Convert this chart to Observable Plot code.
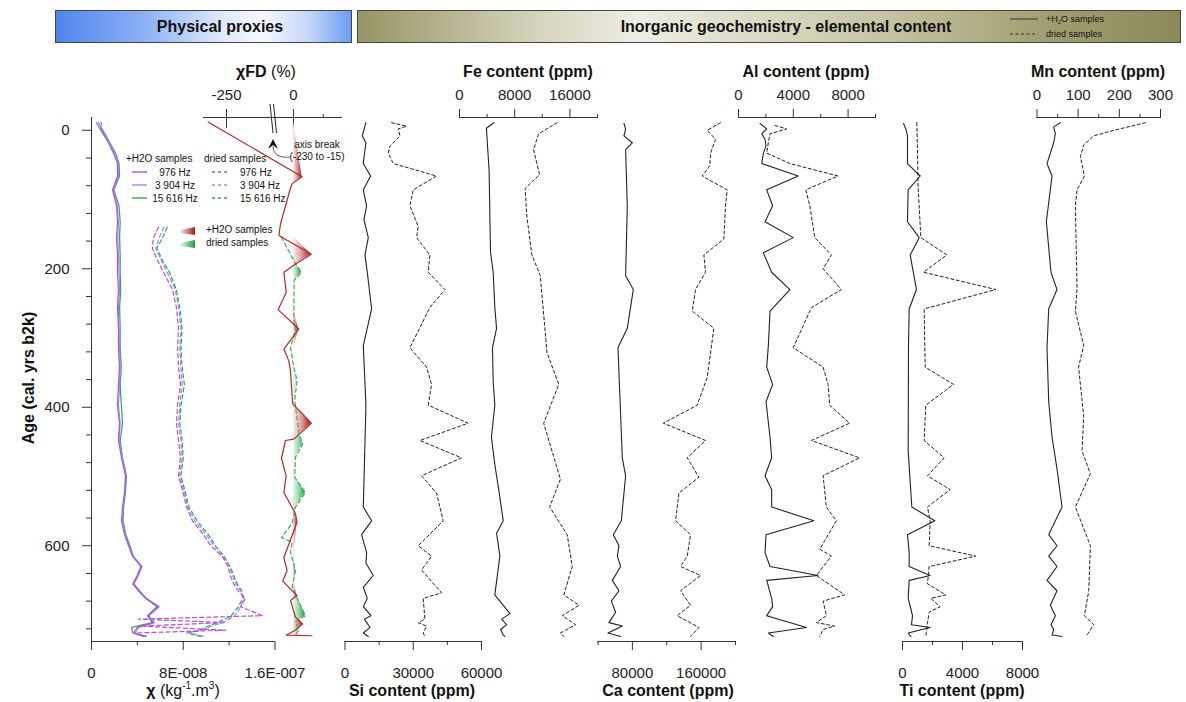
<!DOCTYPE html>
<html><head><meta charset="utf-8">
<script src="https://cdn.jsdelivr.net/npm/d3@7"></script>
<script src="https://cdn.jsdelivr.net/npm/@observablehq/plot@0.6"></script>
<style>
body{margin:0;background:#fff;font-family:"Liberation Sans",Arial,sans-serif;}
#chart{position:relative;width:1186px;height:702px;overflow:hidden;background:#fff;}
.t{position:absolute;white-space:nowrap;color:#111;line-height:1;}
</style></head><body><div id="chart"></div>
<script>
// ---------------- DATA ----------------
// magnetic susceptibility (kg-1.m3), +H2O samples
const chiAge = [-11,-3,8,18,33,48,66,86,109,132,155,180,205,230,256,286,314,342,367,397,423,448,473,499,524,544,564,584,600,615,630,643,655,665,676,688,701,711,718,726,731];
const chi976 = [0.44,0.7,1.13,1.48,1.92,2.27,2.27,1.83,2.18,2.27,2.18,2.27,2.27,2.35,2.27,2.35,2.35,2.44,2.35,2.27,2.44,2.35,2.62,2.96,2.88,2.7,2.62,2.88,3.23,3.57,4.36,4.0,3.66,4.1,4.7,5.84,4.88,5.4,4.0,3.66,4.7];
const chi3904 = [0.6,0.9,1.3,1.6,2.0,2.35,2.35,1.9,2.25,2.35,2.3,2.35,2.4,2.45,2.35,2.4,2.45,2.5,2.45,2.35,2.5,2.4,2.7,3.0,2.9,2.75,2.7,2.95,3.3,3.6,4.4,4.1,3.7,4.2,4.8,5.9,5.0,5.5,4.1,3.8,4.8];
const chi15616 = [0.87,0.8,1.2,1.6,2.1,2.4,2.45,1.95,2.4,2.5,2.45,2.5,2.5,2.55,2.45,2.5,2.5,2.6,2.5,2.6,2.7,2.5,2.7,3.05,2.95,2.8,2.75,3.0,3.35,3.65,4.3,4.0,3.6,4.1,4.75,5.7,4.9,5.3,3.5,3.6,4.6];
// dried samples
const chiDryAge = [140,155,170,185,205,230,256,286,314,342,367,397,423,448,473,499,524,544,564,584,600,615,630,643,655,665,676,688,701,706,711,716,722,726,731];
const chiDry976 = [5.84,5.4,5.3,5.67,6.28,7.06,7.41,7.59,7.5,7.59,7.76,7.5,7.41,7.59,7.76,7.59,8.0,8.28,8.8,9.76,10.4,11.4,11.9,12.1,12.4,12.8,13.4,13.0,14.9,4.1,11.7,4.3,11.7,3.8,4.5];
const chiDry3904 = [6.3,5.9,5.6,6.0,6.6,7.3,7.6,7.8,7.7,7.8,7.9,7.7,7.6,7.8,7.9,7.7,8.1,8.4,9.0,10.0,10.7,11.6,12.0,12.3,12.6,13.0,13.3,13.0,12.5,12.0,11.4,10.5,9.6,8.5,9.8];
const chiDry15616 = [6.6,6.2,5.7,6.1,6.8,7.4,7.7,7.9,7.8,7.9,8.1,7.8,7.7,7.9,8.0,7.8,8.2,8.5,9.2,10.2,10.8,11.5,12.1,12.4,12.7,13.1,13.2,12.8,12.2,11.6,11.0,10.2,9.4,8.3,9.5];
// frequency-dependent susceptibility (%)
const fdWetAge = [-12,67,77,87,101,135,152,154,179,193,205,234,259,287,316,333,347,395,423,446,448,474,499,523,554,566,617,636,651,672,679,703,713,722,729,730];
const fdWetVal = [-258,7.2,-1.1,-3.1,-5.3,-10.8,-12.2,-10,15,1.7,-8,-6,-12.8,4.4,-8,-3.9,-2.5,-0.6,15,0.3,-6.7,-10,-6.1,-8,1.7,3,-8,-5.3,-9,3,-2.5,1.7,7.7,1.7,-6,15.5];
const fdDryAge = [154,193,205,217,275,289,313,342,361,390,436,453,472,501,523,544,568,588,595,609,636,660,701,710,722,730];
const fdDryVal = [-10,1.7,6.7,0.6,0.3,1.7,-2.5,0.3,3,1.1,4.4,7.7,1.7,1.1,10,1.7,-1.1,-10,-1.1,-2.5,1.7,-1.1,10,1.7,4.4,1.1];
// elemental content (ppm)
const siWetAge = [-11,8,18,48,66,86,109,129,155,180,205,258,311,397,544,564,584,610,625,643,660,676,688,701,706,718,726,731];
const siWetVal = [9200,7600,9200,8000,11270,8050,9500,8340,10240,8780,9800,11700,8050,9200,8050,11700,7300,9500,9200,12400,8050,9800,8050,11400,8500,11000,8050,10240];
const siDryAge = [-11,-6,-2,8,23,33,48,66,86,109,139,155,180,205,230,256,314,342,367,397,423,448,473,499,524,564,600,615,635,668,676,706,711,716,726,731];
const siDryVal = [20480,27070,23400,24140,19750,19020,21200,40230,30000,28530,32190,31450,37300,36580,43900,37300,28530,35840,38040,36580,54130,32920,51200,33650,40230,43160,32190,38040,33650,42430,34380,35110,32190,35840,34380,35110];
const feWetAge = [-11,-3,58,175,205,256,286,314,362,397,443,483,514,564,582,615,671,698,706,714,721,729,731];
const feWetVal = [4975,3900,4290,4490,4880,5120,5370,4780,4880,5120,4630,5120,5610,6340,5370,5850,5120,7320,6100,6830,5950,6340,6590];
const feDryAge = [-11,5,28,64,84,124,180,210,321,367,423,504,544,584,630,671,686,701,714,726,731];
const feDryVal = [14150,11460,10730,11610,9510,9760,10490,11710,12680,14390,12200,14630,13070,15610,16340,15120,17320,14880,16830,14630,15120];
const caWetAge = [-10,-2,8,18,28,109,210,230,286,314,473,499,564,584,600,615,630,650,665,680,696,711,716,726,731];
const caWetVal = [70200,72150,70200,79900,72150,74090,72150,81060,74090,63240,68280,72150,67120,57820,64410,62470,66340,56660,64410,55500,60530,52780,68280,51620,66340];
const caDryAge = [-11,0,13,33,51,66,86,109,157,180,205,230,261,286,357,397,423,448,473,501,524,564,584,615,630,643,665,686,701,718,731];
const caDryVal = [182560,167060,176750,170940,170170,161260,190310,188380,186440,163190,165130,153510,149640,174820,167060,155450,115930,165130,143820,157380,134140,130270,147700,143820,136080,159320,136080,147700,132210,157380,147700];
const alWetAge = [-10,-2,5,13,23,33,48,66,86,109,132,155,177,205,230,261,311,342,367,392,443,473,499,519,544,564,584,610,630,643,650,676,688,701,718,726,731];
const alWetVal = [1574,2058,1695,1937,2009,1816,1695,4358,2058,2494,1937,3995,1816,2421,3753,2300,2179,2058,2494,2009,2300,2421,1937,2421,2421,5496,2009,1937,2300,5810,2058,2421,2494,2058,4963,2179,2542];
const alDryAge = [-7,-2,5,18,33,48,66,86,109,155,180,200,230,256,314,342,367,397,423,448,473,499,544,564,605,615,643,671,680,701,711,716,721,731];
const alDryVal = [2663,3510,2300,2179,2058,3753,7263,4915,5205,5568,6779,6174,7505,5326,3995,6174,6537,6658,8110,5326,8837,6174,6416,7142,5932,6779,5689,7747,6174,6416,5689,7021,6174,5932];
const tiWetAge = [-10,-2,8,48,66,86,132,155,180,230,258,311,463,544,564,584,610,630,643,650,676,691,701,714,718,726,731];
const tiWetVal = [67,222,333,333,1178,378,333,1111,511,933,444,400,378,622,2155,333,444,444,1844,444,378,555,667,600,1844,378,555];
const tiDryAge = [-11,33,84,109,155,180,205,230,258,342,367,397,448,473,499,519,544,564,600,615,630,655,671,676,688,696,711,731];
const tiDryVal = [955,1000,1044,1111,1222,2955,1400,6222,1444,1511,3400,1555,1444,2778,1666,3178,1666,1844,1778,4888,1778,1666,2889,1889,2511,1778,1666,1555];
const mnWetAge = [-11,-5,5,18,48,66,132,205,230,258,314,392,443,489,544,584,600,615,630,650,665,686,701,714,721,729,731];
const mnWetVal = [56.8,40.5,44.6,40.5,24.3,36.5,22.7,34,48.6,28.4,24.3,28.4,36.5,48.6,60.8,28.4,48.6,28.4,48.6,24.3,48.6,32.4,44.6,34,40.5,36.5,60.8];
const mnDryAge = [-11,0,8,21,38,66,86,109,230,261,311,342,413,463,496,544,600,665,701,714,729];
const mnDryVal = [263.5,186.5,137.8,113.5,105.4,115.1,97.3,93.2,97.3,93.2,113.5,101,113.5,109.4,129.7,93.2,129.7,125.7,115.1,137.8,121.6];
// axis ticks
const ageMajor = [0,200,400,600];
const ageMinor = d3.range(40,740,40).filter(d => d % 200 !== 0);

// ---------------- LAYOUT ----------------
const FONT = '"Liberation Sans", Arial, sans-serif';
const W = 1186, H = 702, TOP = 117, BOT = 641;
const AGE_DOMAIN = [-18.5, 738.3];
const chart = document.getElementById("chart");
const rows = (ages, vals, k = 1) => ages.map((a, i) => ({age: a, v: vals[i] * k}));
const fmt = d => String(d);
const chiFmt = d => {
  if (d === 0) return "0";
  const [m, e] = d.toExponential().split("e");
  const n = Math.abs(+e);
  return m + "E" + (+e < 0 ? "-" : "+") + String(n).padStart(3, "0");
};

function panel({x0, x1, domain, range, marks}) {
  const svg = Plot.plot({
    width: W, height: H,
    marginLeft: x0, marginRight: W - x1, marginTop: TOP, marginBottom: H - BOT,
    x: {type: "linear", domain, range: range || [x0, x1], axis: null, label: null},
    y: {domain: AGE_DOMAIN, range: [TOP, BOT], axis: null, label: null},
    style: {background: "transparent", fontFamily: FONT, fontSize: "15px", color: "#222",
            overflow: "visible", position: "absolute", left: "0px", top: "0px", maxWidth: "none"},
    marks
  });
  chart.appendChild(svg);
  return svg;
}
function axisMarks({anchor, major, minor, format}) {
  const top = anchor === "top";
  return [
    Plot.ruleY([top ? AGE_DOMAIN[0] : AGE_DOMAIN[1]], {stroke: "#333", strokeWidth: 1}),
    Plot.axisX({anchor, ticks: major, tickSize: 9, tickPadding: top ? 9 : 17, tickFormat: format || fmt, label: null, stroke: "#333"}),
    Plot.axisX({anchor, ticks: minor, tickSize: 4, tickFormat: () => "", label: null, stroke: "#333"})
  ];
}
function geoLines(wet, dry) {
  return [
    Plot.line(dry, {x: "v", y: "age", stroke: "#222", strokeWidth: 1, strokeDasharray: "3,2.5"}),
    Plot.line(wet, {x: "v", y: "age", stroke: "#222", strokeWidth: 1.1})
  ];
}
function positiveRuns(ages, vals) {
  const out = []; let id = 0, i = 0; const n = vals.length;
  while (i < n) {
    if (vals[i] > 0) {
      const s = i; while (i < n && vals[i] > 0) i++;
      id++;
      for (let k = Math.max(0, s - 1); k <= Math.min(n - 1, i); k++) out.push({age: ages[k], v: Math.max(0, vals[k]), z: id});
    } else i++;
  }
  return out;
}

// header boxes
function box(x, y, w, h, bg) {
  const d = document.createElement("div");
  Object.assign(d.style, {position: "absolute", left: x + "px", top: y + "px", width: w + "px", height: h + "px",
    background: bg, border: "1px solid #444", boxSizing: "border-box"});
  chart.appendChild(d);
}
function text(html, x, y, o = {}) {
  const d = document.createElement("div");
  d.className = "t"; d.innerHTML = html;
  const tx = o.anchor === "start" ? "0" : "-50%";
  Object.assign(d.style, {left: x + "px", top: y + "px", fontSize: (o.size || 16) + "px",
    fontWeight: o.bold ? "bold" : "normal", fontFamily: FONT,
    transform: `translate(${tx},-50%)` + (o.rotate ? " rotate(-90deg)" : "")});
  chart.appendChild(d);
}
box(55, 10, 297, 33, "linear-gradient(90deg,#4f86ee 0%,#8db0f5 30%,#dce7fd 55%,#f6f8ff 70%,#c3d5f9 86%,#6b9cf3 100%)");
box(357, 10, 824, 33, "linear-gradient(90deg,#969564 0%,#d6d4bd 22%,#eeede4 34%,#c9c7a8 62%,#9f9d6d 85%,#8b895a 100%)");
text("Physical proxies", 220, 27, {bold: true});
text("Inorganic geochemistry - elemental content", 786, 27, {bold: true});

// ---------- Physical proxies: chi ----------
const chiCols = {c976: "#b84de0", c3904: "#8f8ff5", c15616: "#2ea84e"};
panel({x0: 91, x1: 274.5, domain: [0, 1.6e-7], marks: [
  Plot.ruleX([0], {stroke: "#333"}),
  ...axisMarks({anchor: "bottom", major: [0, 8e-8, 1.6e-7], minor: [4e-8, 1.2e-7], format: chiFmt}),
  Plot.axisY({anchor: "left", ticks: ageMajor, tickSize: 9, tickPadding: 13, tickFormat: fmt, label: null, stroke: "#333"}),
  Plot.axisY({anchor: "left", ticks: ageMinor, tickSize: 5, tickFormat: () => "", label: null, stroke: "#333"}),
  Plot.line(rows(chiDryAge, chiDry15616, 1e-8), {x: "v", y: "age", stroke: chiCols.c15616, strokeWidth: 1.2, strokeDasharray: "4,3"}),
  Plot.line(rows(chiDryAge, chiDry3904, 1e-8), {x: "v", y: "age", stroke: chiCols.c3904, strokeWidth: 1.2, strokeDasharray: "4,3"}),
  Plot.line(rows(chiDryAge, chiDry976, 1e-8), {x: "v", y: "age", stroke: chiCols.c976, strokeWidth: 1.2, strokeDasharray: "4,3"}),
  Plot.line(rows(chiAge, chi15616, 1e-8), {x: "v", y: "age", stroke: chiCols.c15616, strokeWidth: 1.2}),
  Plot.line(rows(chiAge, chi3904, 1e-8), {x: "v", y: "age", stroke: chiCols.c3904, strokeWidth: 1.2}),
  Plot.line(rows(chiAge, chi976, 1e-8), {x: "v", y: "age", stroke: chiCols.c976, strokeWidth: 1.2})
]});

// ---------- chiFD with axis break ----------
const fdSvg = panel({x0: 203, x1: 342, domain: [-260, -230, -15, 41], range: [203, 272, 275, 342], marks: [
  Plot.ruleY([AGE_DOMAIN[0]], {stroke: "#333"}),
  Plot.axisX({anchor: "top", ticks: [-250, 0], tickSize: 9, tickPadding: 9, tickFormat: fmt, label: null, stroke: "#333"}),
  Plot.ruleX([-250, 0], {y1: AGE_DOMAIN[0], y2: AGE_DOMAIN[0] + 16, stroke: "#333"}),
  Plot.axisX({anchor: "top", ticks: [25], tickSize: 4, tickFormat: () => "", label: null, stroke: "#333"}),
  Plot.areaX(positiveRuns(fdDryAge, fdDryVal), {y: "age", x1: 0, x2: "v", z: "z", fill: "url(#gGreen)"}),
  Plot.areaX(positiveRuns(fdWetAge, fdWetVal), {y: "age", x1: 0, x2: "v", z: "z", fill: "url(#gRed)"}),
  Plot.line(rows(fdDryAge, fdDryVal), {x: "v", y: "age", stroke: "#3cb05a", strokeWidth: 1.2, strokeDasharray: "4,3"}),
  Plot.line(rows(fdWetAge, fdWetVal), {x: "v", y: "age", stroke: "#b22a2a", strokeWidth: 1.2})
]});
const NS = "http://www.w3.org/2000/svg";
const defs = document.createElementNS(NS, "defs");
defs.innerHTML = `<linearGradient id="gRed" x1="0" x2="1" y1="0" y2="0"><stop offset="0" stop-color="#fbeeee"/><stop offset="0.5" stop-color="#dc9a9a"/><stop offset="1" stop-color="#9e1c1c"/></linearGradient>
<linearGradient id="gGreen" x1="0" x2="1" y1="0" y2="0"><stop offset="0" stop-color="#eef8f0"/><stop offset="0.5" stop-color="#92d6a4"/><stop offset="1" stop-color="#1f9a48"/></linearGradient>`;
fdSvg.insertBefore(defs, fdSvg.firstChild);

// ---------- Geochemistry panels ----------
panel({x0: 344.5, x1: 481, domain: [0, 60000], marks: [
  ...axisMarks({anchor: "bottom", major: [0, 30000, 60000], minor: [15000, 45000]}),
  ...geoLines(rows(siWetAge, siWetVal), rows(siDryAge, siDryVal))]});
panel({x0: 459, x1: 597, domain: [0, 20000], marks: [
  ...axisMarks({anchor: "top", major: [0, 8000, 16000], minor: [4000, 12000, 20000]}),
  ...geoLines(rows(feWetAge, feWetVal), rows(feDryAge, feDryVal))]});
panel({x0: 597.5, x1: 735, domain: [40000, 200000], marks: [
  ...axisMarks({anchor: "bottom", major: [80000, 160000], minor: [40000, 120000, 200000]}),
  ...geoLines(rows(caWetAge, caWetVal), rows(caDryAge, caDryVal))]});
panel({x0: 738, x1: 875, domain: [0, 10000], marks: [
  ...axisMarks({anchor: "top", major: [0, 4000, 8000], minor: [2000, 6000, 10000]}),
  ...geoLines(rows(alWetAge, alWetVal), rows(alDryAge, alDryVal))]});
panel({x0: 902, x1: 1022, domain: [0, 8000], marks: [
  ...axisMarks({anchor: "bottom", major: [0, 4000, 8000], minor: [2000, 6000]}),
  ...geoLines(rows(tiWetAge, tiWetVal), rows(tiDryAge, tiDryVal))]});
panel({x0: 1036.5, x1: 1160, domain: [0, 300], marks: [
  ...axisMarks({anchor: "top", major: [0, 100, 200, 300], minor: [50, 150, 250]}),
  ...geoLines(rows(mnWetAge, mnWetVal), rows(mnDryAge, mnDryVal))]});

// ---------- titles ----------
text("<b>χFD</b> (%)", 266, 72);
text("Fe content (ppm)", 528, 72, {bold: true});
text("Al content (ppm)", 806, 72, {bold: true});
text("Mn content (ppm)", 1098, 72, {bold: true});
text("<b>χ</b> (kg<sup style='font-size:10px'>-1</sup>.m<sup style='font-size:10px'>3</sup>)", 183, 690);
text("Si content (ppm)", 412, 691, {bold: true});
text("Ca content (ppm)", 668, 691, {bold: true});
text("Ti content (ppm)", 962, 691, {bold: true});
text("Age (cal. yrs b2k)", 29, 378, {bold: true, rotate: true});

// ---------- legends & annotations (overlay) ----------
const ov = document.createElementNS(NS, "svg");
ov.setAttribute("width", W); ov.setAttribute("height", H);
Object.assign(ov.style, {position: "absolute", left: "0px", top: "0px", overflow: "visible"});
ov.innerHTML = `
<defs>
 <linearGradient id="lgR" x1="0" x2="1"><stop offset="0" stop-color="#fbeeee"/><stop offset="1" stop-color="#9e1c1c"/></linearGradient>
 <linearGradient id="lgG" x1="0" x2="1"><stop offset="0" stop-color="#eef8f0"/><stop offset="1" stop-color="#1f9a48"/></linearGradient>
</defs>
<g font-family='${FONT}' fill='#111'>
 <line x1="1010" y1="19" x2="1038" y2="19" stroke="#333" stroke-width="1"/>
 <line x1="1010" y1="34" x2="1038" y2="34" stroke="#333" stroke-width="1" stroke-dasharray="3,2.5"/>
 <text x="1046" y="22" font-size="9">+H<tspan font-size="6" dy="2">2</tspan><tspan dy="-2">O samples</tspan></text>
 <text x="1046" y="37" font-size="9">dried samples</text>

 <text x="126" y="162" font-size="10">+H2O samples</text>
 <text x="204" y="162" font-size="10">dried samples</text>
 <line x1="132" y1="172" x2="147" y2="172" stroke="#b84de0" stroke-width="1.4"/>
 <line x1="132" y1="185" x2="147" y2="185" stroke="#8f8ff5" stroke-width="1.4"/>
 <line x1="132" y1="198" x2="147" y2="198" stroke="#2ea84e" stroke-width="1.4"/>
 <text x="175" y="175.5" font-size="10" text-anchor="middle">976 Hz</text>
 <text x="175" y="188.5" font-size="10" text-anchor="middle">3 904 Hz</text>
 <text x="175" y="201.5" font-size="10" text-anchor="middle">15 616 Hz</text>
 <line x1="212" y1="172" x2="228" y2="172" stroke="#b84de0" stroke-width="1.4" stroke-dasharray="3,3"/>
 <line x1="212" y1="185" x2="228" y2="185" stroke="#8f8ff5" stroke-width="1.4" stroke-dasharray="3,3"/>
 <line x1="212" y1="198" x2="228" y2="198" stroke="#2ea84e" stroke-width="1.4" stroke-dasharray="3,3"/>
 <text x="240" y="175.5" font-size="10">976 Hz</text>
 <text x="240" y="188.5" font-size="10">3 904 Hz</text>
 <text x="240" y="201.5" font-size="10">15 616 Hz</text>

 <polygon points="180,230 195,227 195,235 180,233" fill="url(#lgR)"/>
 <polygon points="180,243 195,240 195,248 180,246" fill="url(#lgG)"/>
 <text x="206" y="233" font-size="10">+H2O samples</text>
 <text x="206" y="246" font-size="10">dried samples</text>

 <line x1="270" y1="104" x2="273" y2="133" stroke="#222" stroke-width="1"/>
 <line x1="273.5" y1="104" x2="276.5" y2="133" stroke="#222" stroke-width="1"/>
 <path d="M268,149 L273,139 L278,149 L273,145 Z" fill="#111"/>
 <path d="M273,146 C273,155 280,158 290,157" fill="none" stroke="#333" stroke-width="0.8"/>
 <text x="317" y="148" font-size="10" text-anchor="middle">axis break</text>
 <text x="317" y="160" font-size="10" text-anchor="middle">(-230 to -15)</text>
</g>`;
chart.appendChild(ov);
</script></body></html>
